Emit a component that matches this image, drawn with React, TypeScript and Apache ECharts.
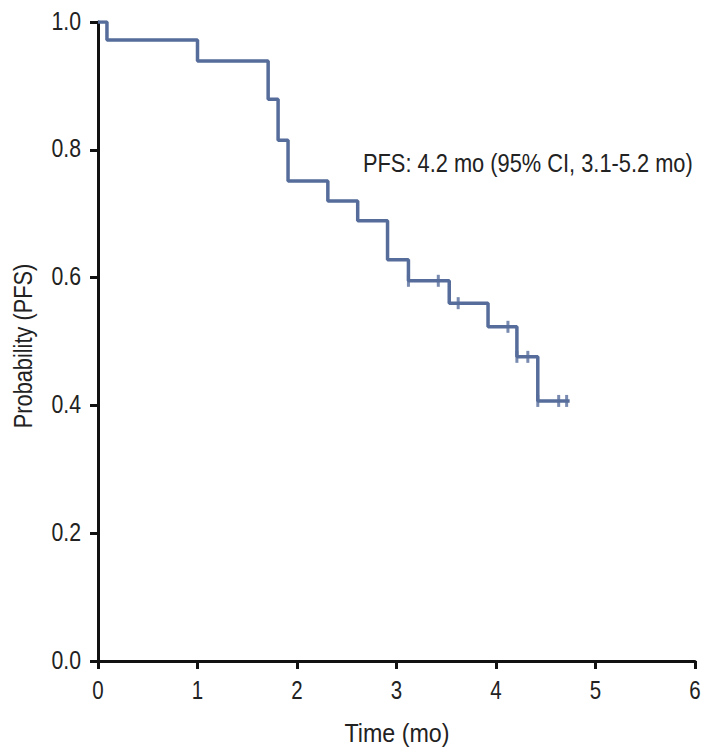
import React, { useEffect, useRef } from "react";
import * as echarts from "echarts";

const eventTimes = [0.09, 1.0, 1.71, 1.81, 1.91, 2.31, 2.61, 2.91, 3.12, 3.53, 3.92, 4.21, 4.42];
const survival = [0.972, 0.939, 0.879, 0.815, 0.751, 0.72, 0.689, 0.628, 0.595, 0.56, 0.523, 0.476, 0.407];
const endTime = 4.74;
const censorTimes = [3.12, 3.42, 3.62, 4.12, 4.21, 4.32, 4.42, 4.63, 4.71];
const xTicks = [0, 1, 2, 3, 4, 5, 6];
const yTicks = [0, 0.2, 0.4, 0.6, 0.8, 1.0];
const yTickLabels = ["0.0", "0.2", "0.4", "0.6", "0.8", "1.0"];
const annotation = "PFS: 4.2 mo (95% CI, 3.1-5.2 mo)";
const xTitle = "Time (mo)";
const yTitle = "Probability (PFS)";

const FONT = "'Liberation Sans', Arial, sans-serif";
const FS = 25;
const TXT = "#222";
const LINE = "#566d9b";

function survAt(t: number): number {
  let s = 1;
  for (let i = 0; i < eventTimes.length; i++) {
    if (eventTimes[i] <= t) s = survival[i];
  }
  return s;
}

export default function App() {
  const ref = useRef<HTMLDivElement>(null);
  useEffect(() => {
    if (!ref.current) return;
    const chart = echarts.init(ref.current, undefined, { renderer: "svg" });
    const pts: number[][] = [[0, 1]];
    let prev = 1;
    eventTimes.forEach((t, i) => {
      pts.push([t, prev]);
      pts.push([t, survival[i]]);
      prev = survival[i];
    });
    pts.push([endTime, prev]);
    const censors = censorTimes.map((t) => [t, survAt(t)]);
    chart.setOption({
      animation: false,
      backgroundColor: "#ffffff",
      grid: { left: 98, right: 21, top: 22, bottom: 93 },
      xAxis: {
        type: "value",
        min: 0,
        max: 6,
        interval: 1,
        axisLine: { show: true, lineStyle: { color: "#111", width: 3 } },
        axisTick: { show: true, length: 8, lineStyle: { color: "#111", width: 3 } },
        axisLabel: { show: false },
        splitLine: { show: false },
      },
      yAxis: {
        type: "value",
        min: 0,
        max: 1,
        interval: 0.2,
        axisLine: { show: true, lineStyle: { color: "#111", width: 3 } },
        axisTick: { show: true, length: 8, lineStyle: { color: "#111", width: 3 } },
        axisLabel: { show: false },
        splitLine: { show: false },
      },
      series: [
        {
          type: "line",
          data: pts,
          symbol: "none",
          lineStyle: { color: LINE, width: 3.5 },
          z: 3,
        },
        {
          type: "scatter",
          data: censors,
          symbol: "rect",
          symbolSize: [3, 12],
          itemStyle: { color: LINE },
          z: 4,
        },
      ],
    });

    const graphics: any[] = [];
    xTicks.forEach((v) => {
      const p = chart.convertToPixel({ gridIndex: 0 }, [v, 0]) as number[];
      graphics.push({
        type: "text",
        x: p[0],
        y: p[1] + 29,
        scaleX: 0.82,
        style: {
          text: String(v),
          fontFamily: FONT,
          fontSize: FS,
          fill: TXT,
          textAlign: "center",
          textVerticalAlign: "middle",
        },
      });
    });
    yTicks.forEach((v, i) => {
      const p = chart.convertToPixel({ gridIndex: 0 }, [0, v]) as number[];
      graphics.push({
        type: "text",
        x: p[0] - 17,
        y: p[1] - 1,
        scaleX: 0.85,
        style: {
          text: yTickLabels[i],
          fontFamily: FONT,
          fontSize: FS,
          fill: TXT,
          textAlign: "right",
          textVerticalAlign: "middle",
        },
      });
    });
    graphics.push({
      type: "text",
      x: 397,
      y: 733,
      scaleX: 0.93,
      style: {
        text: xTitle,
        fontFamily: FONT,
        fontSize: FS,
        fill: TXT,
        textAlign: "center",
        textVerticalAlign: "middle",
      },
    });
    graphics.push({
      type: "text",
      x: 23,
      y: 346,
      rotation: Math.PI / 2,
      scaleX: 0.87,
      style: {
        text: yTitle,
        fontFamily: FONT,
        fontSize: FS,
        fill: TXT,
        textAlign: "center",
        textVerticalAlign: "middle",
      },
    });
    graphics.push({
      type: "text",
      x: 363,
      y: 163,
      scaleX: 0.873,
      style: {
        text: annotation,
        fontFamily: FONT,
        fontSize: FS,
        fill: TXT,
        textAlign: "left",
        textVerticalAlign: "middle",
      },
    });
    chart.setOption({ graphic: graphics });
    return () => chart.dispose();
  }, []);
  return (
    <div
      ref={ref}
      style={{ position: "fixed", left: 0, top: 0, width: 716, height: 754 }}
    />
  );
}
